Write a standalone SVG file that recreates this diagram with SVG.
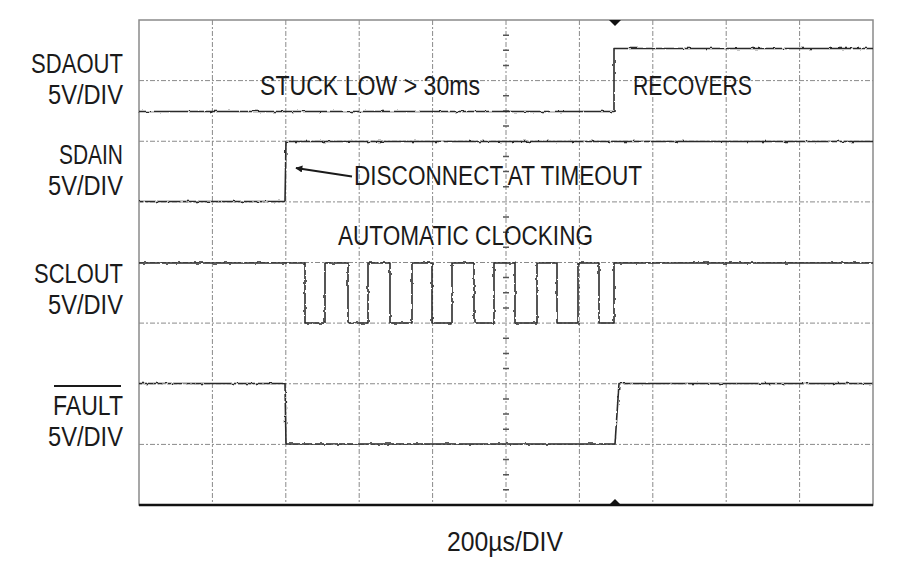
<svg xmlns="http://www.w3.org/2000/svg" width="900" height="565" viewBox="0 0 900 565">
<style>
.lbl{font-family:"Liberation Sans",Arial,sans-serif;font-size:27px;fill:#1a1a1a}
.grid{stroke:#8a8a8a;stroke-width:1;stroke-dasharray:5 2 2 2;fill:none}
.tick{stroke:#555;stroke-width:1.5}
.trace{fill:none;stroke:#2a2a2a;stroke-width:1.6;stroke-linejoin:round}
</style>
<defs>
<filter id="noise" x="0" y="0" width="900" height="565" filterUnits="userSpaceOnUse">
<feTurbulence type="fractalNoise" baseFrequency="0.22" numOctaves="1" seed="5" result="t"/>
<feDisplacementMap in="SourceGraphic" in2="t" scale="3" xChannelSelector="R" yChannelSelector="G"/>
</filter>
<marker id="ah" viewBox="0 0 10 10" refX="9" refY="5" markerWidth="9" markerHeight="7" orient="auto" markerUnits="userSpaceOnUse">
<path d="M0,0 L10,5 L0,10 z" fill="#1a1a1a"/>
</marker>
</defs>
<rect width="900" height="565" fill="#fff"/>
<g id="grid">
<rect x="139" y="20" width="734" height="485" fill="none" stroke="#8a8a8a" stroke-width="1.5"/>
<path class="grid" d="M212.4,20V505M285.8,20V505M359.2,20V505M432.6,20V505M506,20V505M579.4,20V505M652.8,20V505M726.2,20V505M799.6,20V505"/>
<path class="grid" d="M139,80.6H873M139,141.25H873M139,201.9H873M139,262.5H873M139,323.1H873M139,383.75H873M139,444.4H873"/>
<path class="tick" d="M503,35.2h6M503,50.3h6M503,65.5h6M503,95.8h6M503,110.9h6M503,126.1h6M503,156.4h6M503,171.6h6M503,186.7h6M503,217h6M503,232.2h6M503,247.3h6M503,277.6h6M503,292.8h6M503,307.9h6M503,338.3h6M503,353.4h6M503,368.6h6M503,398.9h6M503,414h6M503,429.2h6M503,459.5h6M503,474.7h6M503,489.8h6"/>
<line x1="139" y1="505" x2="873" y2="505" stroke="#111" stroke-width="2.5"/>
<path d="M609,20 L621,20 L615,26 z" fill="#111"/>
<path d="M609,505 L621,505 L615,499 z" fill="#111"/>
</g>
<g id="traces" filter="url(#noise)">
<path id="sdaout" class="trace" d="M139,111.5 H614 V48.5 H873"/>
<path id="sdain" class="trace" d="M139,201.5 H285 L286,141.5 H873"/>
<path id="sclout" class="trace" d="M139,263 H305 V323 H325 V263 H348 V323 H368 V263 H390 V323 H412 V263 H432 V323 H452 V263 H474 V323 H494 V263 H515 V323 H537 V263 H557 V323 H578 V263 H599 V323 H614 V263 H873"/>
<path id="fault" class="trace" d="M139,383.5 H285 L286,444 H615 L619,383.5 H873"/>
</g>
<g id="connectors">
<line x1="352" y1="176.5" x2="296" y2="168" stroke="#1a1a1a" stroke-width="2" marker-end="url(#ah)"/>
</g>
<g id="labels">
<text class="lbl" x="31" y="73" textLength="92" lengthAdjust="spacingAndGlyphs">SDAOUT</text>
<text class="lbl" x="48" y="104" textLength="75" lengthAdjust="spacingAndGlyphs">5V/DIV</text>
<text class="lbl" x="59" y="164" textLength="64" lengthAdjust="spacingAndGlyphs">SDAIN</text>
<text class="lbl" x="48" y="195" textLength="75" lengthAdjust="spacingAndGlyphs">5V/DIV</text>
<text class="lbl" x="34" y="283" textLength="89" lengthAdjust="spacingAndGlyphs">SCLOUT</text>
<text class="lbl" x="48" y="314" textLength="75" lengthAdjust="spacingAndGlyphs">5V/DIV</text>
<line x1="54" y1="386" x2="121" y2="386" stroke="#1a1a1a" stroke-width="1.8"/>
<text class="lbl" x="53" y="415" textLength="70" lengthAdjust="spacingAndGlyphs">FAULT</text>
<text class="lbl" x="48" y="446" textLength="75" lengthAdjust="spacingAndGlyphs">5V/DIV</text>
<text class="lbl" x="260" y="95" textLength="220" lengthAdjust="spacingAndGlyphs">STUCK LOW &gt; 30ms</text>
<text class="lbl" x="633" y="95" textLength="119" lengthAdjust="spacingAndGlyphs">RECOVERS</text>
<text class="lbl" x="354" y="185" textLength="288" lengthAdjust="spacingAndGlyphs">DISCONNECT AT TIMEOUT</text>
<text class="lbl" x="338" y="245" textLength="255" lengthAdjust="spacingAndGlyphs">AUTOMATIC CLOCKING</text>
<text class="lbl" x="447" y="551" textLength="116" lengthAdjust="spacingAndGlyphs">200µs/DIV</text>
</g>
</svg>
